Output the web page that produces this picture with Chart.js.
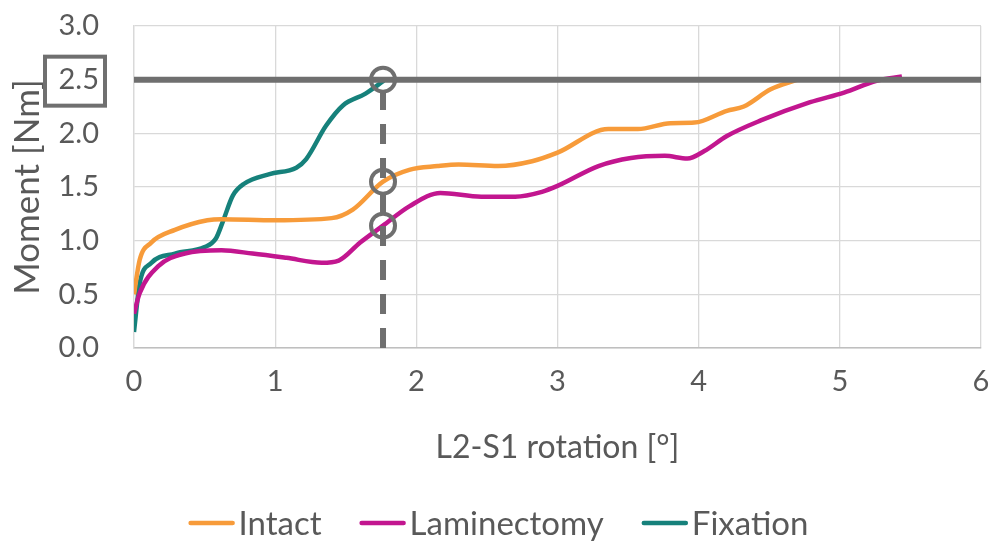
<!DOCTYPE html>
<html>
<head>
<meta charset="utf-8">
<script src="https://cdn.jsdelivr.net/npm/chart.js@4.4.1/dist/chart.umd.min.js"></script>
<style>
  html, body { margin: 0; padding: 0; background: #ffffff; }
  #wrap { width: 997px; height: 542px; }
</style>
</head>
<body>
<div id="wrap"><canvas id="c" width="997" height="542"></canvas></div>
<script>
// Moment vs. L2-S1 rotation curves
const intactX = [0, 0.04, 0.12, 0.29, 0.52, 0.62, 1.0, 1.4, 1.55, 1.764, 1.95, 2.15, 2.3, 2.58, 2.82, 3.0, 3.36, 3.57, 3.8, 3.97, 4.2, 4.32, 4.51, 4.7];
const intactY = [0.5, 0.82, 0.98, 1.10, 1.19, 1.20, 1.19, 1.21, 1.29, 1.55, 1.66, 1.695, 1.71, 1.695, 1.74, 1.82, 2.04, 2.04, 2.095, 2.10, 2.21, 2.25, 2.41, 2.5];

const laminX = [0, 0.04, 0.17, 0.36, 0.62, 0.84, 1.08, 1.33, 1.45, 1.6, 1.764, 1.95, 2.17, 2.46, 2.70, 2.89, 3.0, 3.29, 3.52, 3.76, 3.92, 4.04, 4.20, 4.44, 4.79, 5.03, 5.26, 5.44];
const laminY = [0.32, 0.51, 0.76, 0.88, 0.91, 0.88, 0.84, 0.795, 0.815, 0.98, 1.14, 1.32, 1.445, 1.41, 1.41, 1.455, 1.51, 1.695, 1.77, 1.79, 1.765, 1.835, 1.975, 2.12, 2.29, 2.38, 2.49, 2.53];

const fixX = [0, 0.04, 0.12, 0.29, 0.50, 0.58, 0.63, 0.70, 0.78, 0.96, 1.15, 1.22, 1.36, 1.48, 1.64, 1.77];
const fixY = [0.15, 0.60, 0.79, 0.88, 0.94, 1.02, 1.18, 1.42, 1.53, 1.62, 1.68, 1.76, 2.07, 2.26, 2.37, 2.49];

// Reference moment level and the rotation where Fixation reaches it
const refMoment = 2.5;
const markX = [1.764, 1.764, 1.764];
const markY = [2.5, 1.55, 1.14];

const xTicks = [0, 1, 2, 3, 4, 5, 6];
const yTicks = [0, 0.5, 1.0, 1.5, 2.0, 2.5, 3.0];

const seriesNames = ['Intact', 'Laminectomy', 'Fixation'];
const seriesColors = ['#F79B3A', '#C2168F', '#16817B'];
const GRAY = '#6F6F6F';
const TEXT = '#595959';
const FONT = 'Lato, "Open Sans", sans-serif';

const pts = (xs, ys) => xs.map((x, i) => ({ x: x, y: ys[i] }));

function curve(i, xs, ys) {
  return {
    label: seriesNames[i],
    data: pts(xs, ys),
    borderColor: seriesColors[i],
    backgroundColor: seriesColors[i],
    borderWidth: 4.5,
    pointRadius: 0,
    cubicInterpolationMode: 'monotone',
    order: 2,
    isSeries: true
  };
}

const datasets = [
  curve(0, intactX, intactY),
  curve(1, laminX, laminY),
  curve(2, fixX, fixY),
  {
    label: 'ref',
    data: pts([xTicks[0], xTicks[xTicks.length - 1]], [refMoment, refMoment]),
    borderColor: GRAY, borderWidth: 6, pointRadius: 0, order: 1
  },
  {
    label: 'drop',
    data: pts([markX[0], markX[0]], [0, refMoment]),
    borderColor: GRAY, borderWidth: 6, borderDash: [20, 14], pointRadius: 0, order: 1
  },
  {
    label: 'marks',
    data: pts(markX, markY),
    showLine: false,
    pointRadius: 12, pointHoverRadius: 12,
    pointBorderWidth: 4, pointBorderColor: GRAY,
    pointBackgroundColor: 'rgba(0,0,0,0)',
    order: 0
  }
];

// Box around the reference tick label
const boxedTick = {
  id: 'boxedTick',
  afterDraw(chart) {
    const y = chart.scales.y.getPixelForValue(refMoment);
    const ctx = chart.ctx;
    ctx.save();
    ctx.strokeStyle = GRAY;
    ctx.lineWidth = 4;
    ctx.strokeRect(45, y - 23, 60, 49);
    ctx.restore();
  }
};

// Legend: short coloured line followed by the series name
const lineLegend = {
  id: 'lineLegend',
  afterDraw(chart) {
    const ctx = chart.ctx;
    const series = chart.data.datasets.filter(d => d.isSeries);
    const sw = 46, gap = 4, itemGap = 38, cy = 523;
    ctx.save();
    ctx.font = '33px ' + FONT;
    ctx.textBaseline = 'middle';
    const widths = series.map(d => sw + gap + ctx.measureText(d.label).width);
    const total = widths.reduce((a, b) => a + b, 0) + itemGap * (series.length - 1);
    let x = (chart.width - total) / 2;
    series.forEach((d, i) => {
      ctx.strokeStyle = d.borderColor;
      ctx.lineWidth = 4.5;
      ctx.lineCap = 'round';
      ctx.beginPath();
      ctx.moveTo(x + 2, cy);
      ctx.lineTo(x + sw - 2, cy);
      ctx.stroke();
      ctx.fillStyle = TEXT;
      ctx.textAlign = 'left';
      ctx.fillText(d.label, x + sw + gap, cy + 1);
      x += widths[i] + itemGap;
    });
    ctx.restore();
  }
};

// Fixed axis sizes; no extra edge padding from tick labels
function noEdgePadding(s) {
  s.paddingTop = 0; s.paddingBottom = 0; s.paddingLeft = 0; s.paddingRight = 0;
}

new Chart(document.getElementById('c'), {
  type: 'line',
  data: { datasets: datasets },
  plugins: [boxedTick, lineLegend],
  options: {
    responsive: false,
    animation: false,
    events: [],
    layout: { padding: { left: 0, right: 12, top: 26, bottom: 75 } },
    plugins: { legend: { display: false }, tooltip: { enabled: false } },
    scales: {
      x: {
        type: 'linear',
        min: xTicks[0], max: xTicks[xTicks.length - 1],
        afterBuildTicks: s => { s.ticks = xTicks.map(v => ({ value: v })); },
        afterFit: s => { s.height = 119; noEdgePadding(s); },
        grid: { color: '#D9D9D9', lineWidth: 1.3, drawTicks: false },
        border: { color: '#BFBFBF', width: 1.5 },
        ticks: { color: TEXT, font: { family: FONT, size: 29 }, padding: 16, callback: v => String(v) },
        title: { display: true, text: 'L2-S1 rotation [°]', color: TEXT, font: { family: FONT, size: 32 }, padding: { top: 0, bottom: 0 } }
      },
      y: {
        type: 'linear',
        min: yTicks[0], max: yTicks[yTicks.length - 1],
        afterBuildTicks: s => { s.ticks = yTicks.map(v => ({ value: v })); },
        afterFit: s => { s.width = 134; noEdgePadding(s); },
        grid: { color: '#D9D9D9', lineWidth: 1.3, drawTicks: false },
        border: { color: '#D9D9D9', width: 1.3 },
        ticks: { color: TEXT, font: { family: FONT, size: 29 }, padding: 35, callback: v => Number(v).toFixed(1) },
        title: { display: true, text: 'Moment [Nm]', color: TEXT, font: { family: FONT, size: 35 }, padding: { top: 7, bottom: 0 } }
      }
    }
  }
});
</script>
</body>
</html>
